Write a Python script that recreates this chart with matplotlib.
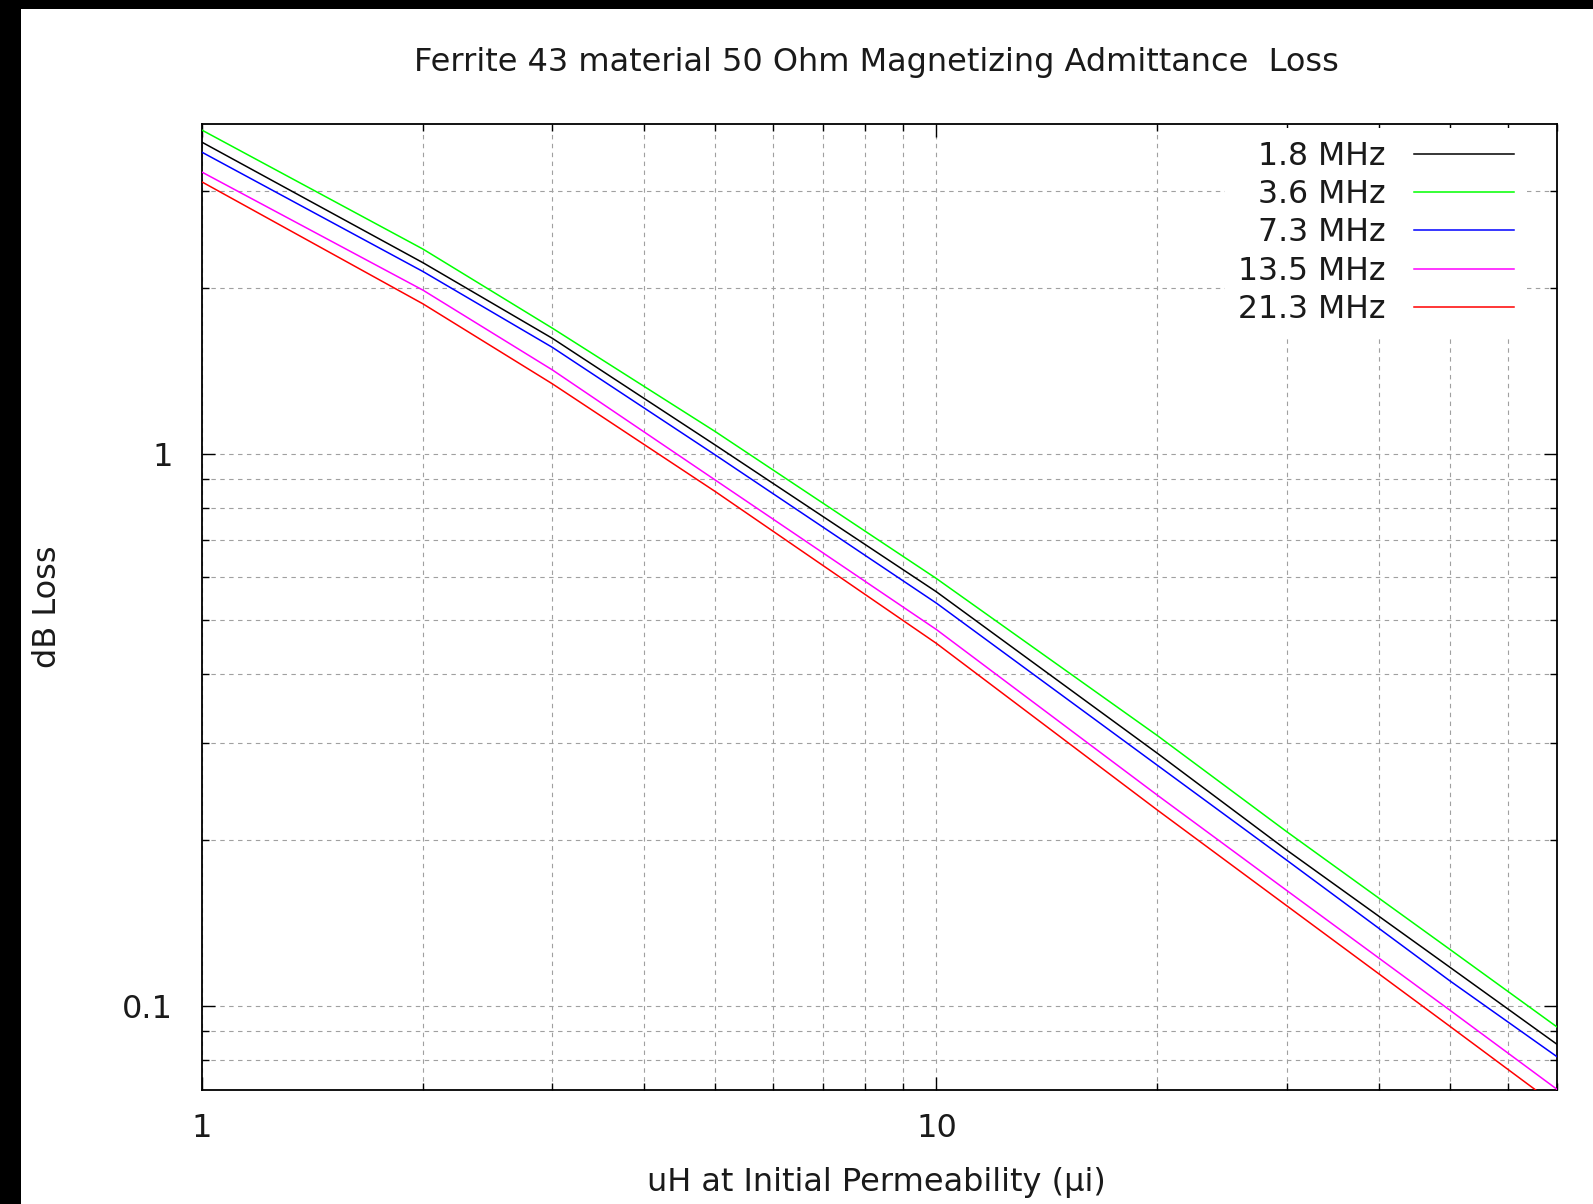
import numpy as np
import matplotlib
matplotlib.use('Agg')
import matplotlib.pyplot as plt
from matplotlib.patches import Rectangle
from matplotlib.ticker import LogLocator, NullFormatter, FixedLocator, FixedFormatter

# values (uH vs dB loss), one list per band
x_uh = [1, 2, 3, 5, 10, 20, 30, 50, 70]
loss_1_8 = [3.67, 2.22, 1.62, 1.038, 0.563, 0.287, 0.1917, 0.1177, 0.0853]
loss_3_6 = [3.86, 2.35, 1.69, 1.098, 0.595, 0.309, 0.207, 0.1268, 0.0917]
loss_7_3 = [3.52, 2.14, 1.56, 0.996, 0.537, 0.273, 0.1838, 0.1112, 0.0810]
loss_13_5 = [3.24, 1.98, 1.42, 0.897, 0.481, 0.241, 0.162, 0.0984, 0.0707]
loss_21_3 = [3.11, 1.87, 1.34, 0.855, 0.454, 0.2265, 0.152, 0.092, 0.066]

band_names = ['1.8 MHz', '3.6 MHz', '7.3 MHz', '13.5 MHz', '21.3 MHz']
band_colors = ['black', '#00ff00', '#0000ff', '#ff00ff', '#ff0000']
series = [loss_1_8, loss_3_6, loss_7_3, loss_13_5, loss_21_3]

plt.rcParams['font.family'] = ['DejaVu Sans']
fs = 23
txt_col = '#1a1a1a'

W, H = 1593, 1204
fig = plt.figure(figsize=(W / 100, H / 100), dpi=100)
fig.patch.set_facecolor('white')

# axes box in pixels: left 202, right 1557, top 124, bottom 1090
ax = fig.add_axes([202 / W, 1 - 1090 / H, (1557 - 202) / W, (1090 - 124) / H])

for ys, name, col in zip(series, band_names, band_colors):
    ax.plot(x_uh, ys, color=col, lw=1.1, label=name, zorder=3)

ax.set_xscale('log')
ax.set_yscale('log')
ax.set_xlim(1, 70)
ax.set_ylim(0.0705, 3.96)

# only decade labels like gnuplot does
ax.xaxis.set_major_locator(FixedLocator([1, 10]))
ax.xaxis.set_major_formatter(FixedFormatter(['1', '10']))
ax.yaxis.set_major_locator(FixedLocator([0.1, 1]))
ax.yaxis.set_major_formatter(FixedFormatter(['0.1', '1']))
ax.xaxis.set_minor_locator(LogLocator(base=10, subs=np.arange(2, 10), numticks=20))
ax.yaxis.set_minor_locator(LogLocator(base=10, subs=np.arange(2, 10), numticks=20))
ax.xaxis.set_minor_formatter(NullFormatter())
ax.yaxis.set_minor_formatter(NullFormatter())

ax.tick_params(which='both', direction='in', top=True, right=True, width=1.0, color='black')
ax.tick_params(which='major', length=9.5)
ax.tick_params(which='minor', length=5)
ax.tick_params(axis='x', which='major', labelsize=fs, pad=16.5, labelcolor=txt_col)
ax.tick_params(axis='y', which='major', labelsize=fs, pad=21, labelcolor=txt_col)

ax.grid(True, which='both', color='#a0a0a0', lw=0.8, linestyle=(0, (4, 4)), zorder=1)
ax.set_axisbelow(True)
for sp in ax.spines.values():
    sp.set_linewidth(1.3)
    sp.set_color('black')

# key in the top right, text before the sample line
leg = ax.legend(loc='upper right', bbox_to_anchor=(1527 / W, 1 - 128 / H),
                bbox_transform=fig.transFigure, markerfirst=False, fontsize=22.7,
                handlelength=3.2, handletextpad=0.9, labelspacing=0.235,
                borderpad=0.4, borderaxespad=0, frameon=True, fancybox=False)
leg.get_frame().set_facecolor('white')
leg.get_frame().set_edgecolor('none')
leg.get_frame().set_alpha(1)
leg.set_zorder(5)
for t in leg.get_texts():
    t.set_color(txt_col)

fig.text(876 / W, 1 - 63 / H, 'Ferrite 43 material 50 Ohm Magnetizing Admittance  Loss',
         ha='center', va='center', fontsize=fs, color=txt_col)
fig.text(876 / W, 1 - 1182 / H, 'uH at Initial Permeability (µi)',
         ha='center', va='center', fontsize=fs, color=txt_col)
fig.text(48 / W, 1 - 607 / H, 'dB Loss', ha='center', va='center', rotation=90,
         fontsize=fs, color=txt_col)

# black strips at the top and left edge of the screenshot
fig.add_artist(Rectangle((0, 1 - 9 / H), 1, 9 / H, transform=fig.transFigure,
                         facecolor='black', edgecolor='none'))
fig.add_artist(Rectangle((0, 0), 21 / W, 1, transform=fig.transFigure,
                         facecolor='black', edgecolor='none'))

fig.savefig('out.png', dpi=100)
